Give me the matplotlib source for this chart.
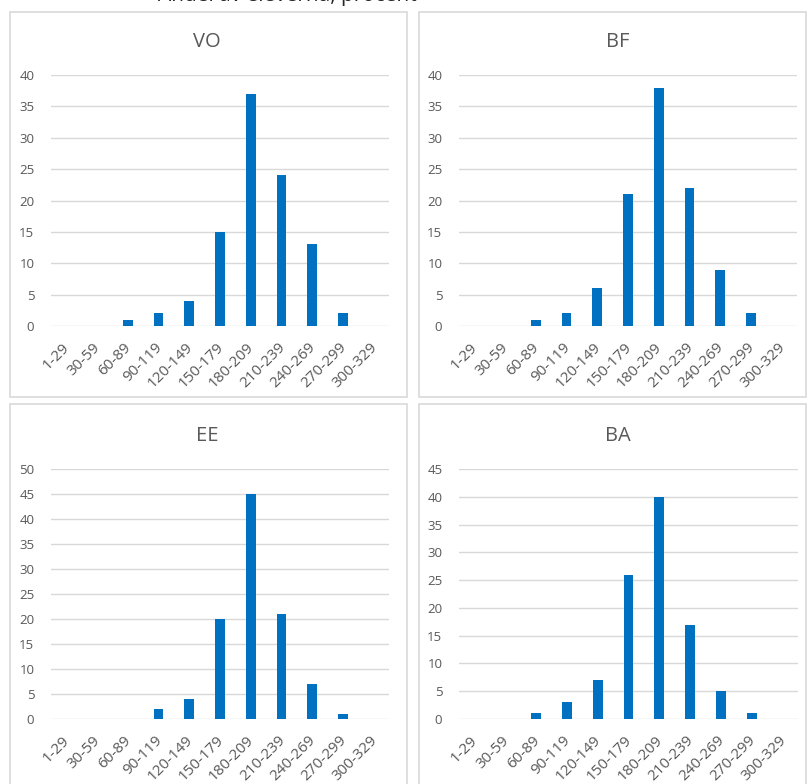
import matplotlib.pyplot as plt
from matplotlib.patches import Rectangle
from matplotlib.transforms import ScaledTranslation

plt.rcParams['font.family'] = ['Open Sans', 'DejaVu Sans']

categories = ['1-29', '30-59', '60-89', '90-119', '120-149', '150-179',
              '180-209', '210-239', '240-269', '270-299', '300-329']
vo = [0, 0, 1, 2, 4, 15, 37, 24, 13, 2, 0]
bf = [0, 0, 1, 2, 6, 21, 38, 22, 9, 2, 0]
ee = [0, 0, 0, 2, 4, 20, 45, 21, 7, 1, 0]
ba = [0, 0, 1, 3, 7, 26, 40, 17, 5, 1, 0]

W, H = 807, 784
fig = plt.figure(figsize=(W / 100, H / 100), dpi=100)

bar_col = '#0070C0'
grid_col = '#D9D9D9'
txt_col = '#595959'


def px(x0, y0, x1, y1):
    # pixel box (top-left origin) -> figure fraction [l, b, w, h]
    return [x0 / W, 1 - y1 / H, (x1 - x0) / W, (y1 - y0) / H]


panels = [
    ('VO', vo, 40, (10, 12, 407, 397), (51, 75, 389, 326), 207, 42),
    ('BF', bf, 40, (419, 12, 806, 397), (459, 75, 797, 326), 618, 42),
    ('EE', ee, 50, (10, 404, 407, 790), (51, 469, 389, 719), 207, 436),
    ('BA', ba, 45, (419, 404, 806, 790), (459, 469, 798, 719), 618, 436),
]

shift = ScaledTranslation(-4 / 100, 0, fig.dpi_scale_trans)

for name, vals, ymax, box, ax_box, tx, ty in panels:
    l, b, w, h = px(*box)
    fig.add_artist(Rectangle((l, b), w, h, transform=fig.transFigure,
                             facecolor='white', edgecolor=grid_col,
                             lw=1.2, zorder=-5))
    ax = fig.add_axes(px(*ax_box))
    ax.set_facecolor('none')
    ax.bar(range(len(categories)), vals, width=0.32, color=bar_col, zorder=3)
    ax.set_xlim(-0.5, len(categories) - 0.5)
    ax.set_ylim(0, ymax)
    ax.set_yticks(range(0, ymax + 1, 5))
    ax.yaxis.grid(True, color=grid_col, lw=1, zorder=0)
    for s in ax.spines.values():
        s.set_visible(False)
    ax.tick_params(length=0, colors=txt_col)
    ax.tick_params(axis='y', pad=12, labelsize=9.5)
    ax.set_xticks(range(len(categories)))
    ax.set_xticklabels(categories, rotation=45, ha='right', va='top',
                       rotation_mode='anchor')
    ax.tick_params(axis='x', pad=10, labelsize=11)
    for lab in ax.get_xticklabels():
        lab.set_transform(lab.get_transform() + shift)
    fig.text(tx / W, 1 - ty / H, name, ha='center', va='center',
             fontsize=14.5, color=txt_col)

fig.text(287 / W, 1 - 1.5 / H, 'Andel av eleverna, procent', ha='center',
         va='baseline', fontsize=15, color='#262626')

fig.savefig('out.png', dpi=100, facecolor='white')
